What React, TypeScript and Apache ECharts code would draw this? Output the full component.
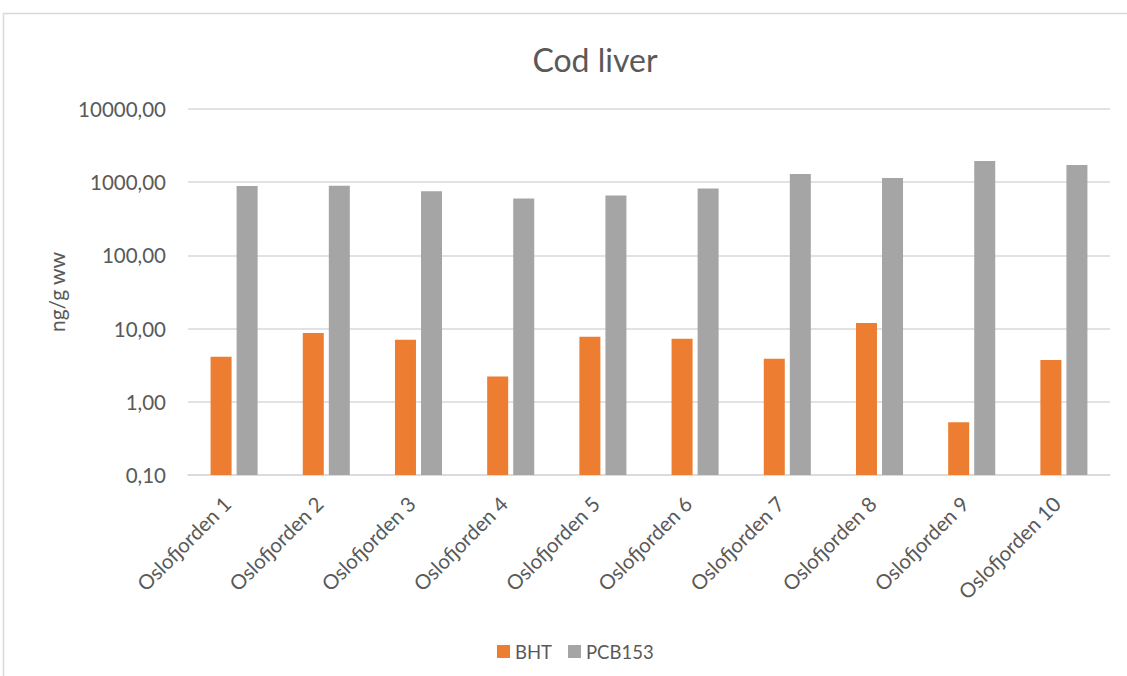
import React, { useEffect, useRef } from "react";
import * as echarts from "echarts";

const categories = [
  "Oslofjorden 1", "Oslofjorden 2", "Oslofjorden 3", "Oslofjorden 4", "Oslofjorden 5",
  "Oslofjorden 6", "Oslofjorden 7", "Oslofjorden 8", "Oslofjorden 9", "Oslofjorden 10",
];
const bhtValues = [4.13, 8.7, 7.06, 2.21, 7.71, 7.24, 3.86, 11.97, 0.525, 3.72];
const pcb153Values = [887, 896, 751, 600, 658, 820, 1298, 1145, 1949, 1718];
const seriesNames = ["BHT", "PCB153"];
const titleText = "Cod liver";
const yAxisName = "ng/g ww";

const FONT = "Lato, 'Liberation Sans', sans-serif";
const TEXT = "#595959";

export default function App() {
  const ref = useRef<HTMLDivElement>(null);
  useEffect(() => {
    if (!ref.current) return;
    const chart = echarts.init(ref.current, null, { renderer: "svg" });
    chart.setOption({
      animation: false,
      backgroundColor: "#ffffff",
      textStyle: { fontFamily: FONT, color: TEXT },
      graphic: [
        {
          type: "rect",
          shape: { x: 3.5, y: 13.5, width: 1200, height: 700 },
          style: { fill: "none", stroke: "#D9D9D9", lineWidth: 1.5 },
          silent: true,
        },
        {
          type: "text",
          x: 595,
          y: 59,
          style: {
            text: titleText,
            fontSize: 32,
            fontFamily: FONT,
            fill: TEXT,
            align: "center",
            verticalAlign: "middle",
          },
        },
      ],
      legend: {
        data: seriesNames,
        left: 492,
        top: 637,
        icon: "rect",
        itemWidth: 13,
        itemHeight: 13,
        itemGap: 16,
        textStyle: { fontSize: 18.5, color: TEXT, fontFamily: FONT },
      },
      grid: { left: 188, right: 17, top: 109, bottom: 201, containLabel: false },
      xAxis: {
        type: "category",
        data: categories,
        axisLine: { lineStyle: { color: "#D9D9D9", width: 1.5 } },
        axisTick: { show: false },
        axisLabel: {
          rotate: 45,
          interval: 0,
          margin: 18,
          fontSize: 20.5,
          color: TEXT,
          fontFamily: FONT,
          padding: [0, 10, 0, 0],
        },
      },
      yAxis: {
        type: "log",
        logBase: 10,
        min: 0.1,
        max: 10000,
        startValue: 0.1,
        name: yAxisName,
        nameLocation: "middle",
        nameGap: 121,
        nameTextStyle: { fontSize: 21, color: TEXT, fontFamily: FONT },
        axisLine: { show: false },
        axisTick: { show: false },
        splitLine: { lineStyle: { color: "#D9D9D9", width: 1.5 } },
        axisLabel: {
          margin: 22,
          fontSize: 20.5,
          color: TEXT,
          fontFamily: FONT,
          formatter: (v: number) => v.toFixed(2).replace(".", ","),
        },
      },
      series: [
        {
          name: seriesNames[0],
          type: "bar",
          data: bhtValues,
          itemStyle: { color: "#ED7D31" },
          barWidth: 21,
          barGap: "24%",
        },
        {
          name: seriesNames[1],
          type: "bar",
          data: pcb153Values,
          itemStyle: { color: "#A5A5A5" },
          barWidth: 21,
          barGap: "24%",
        },
      ],
    });
    return () => chart.dispose();
  }, []);
  return (
    <div
      ref={ref}
      style={{ position: "fixed", left: 0, top: 0, width: 1127, height: 676 }}
    />
  );
}
